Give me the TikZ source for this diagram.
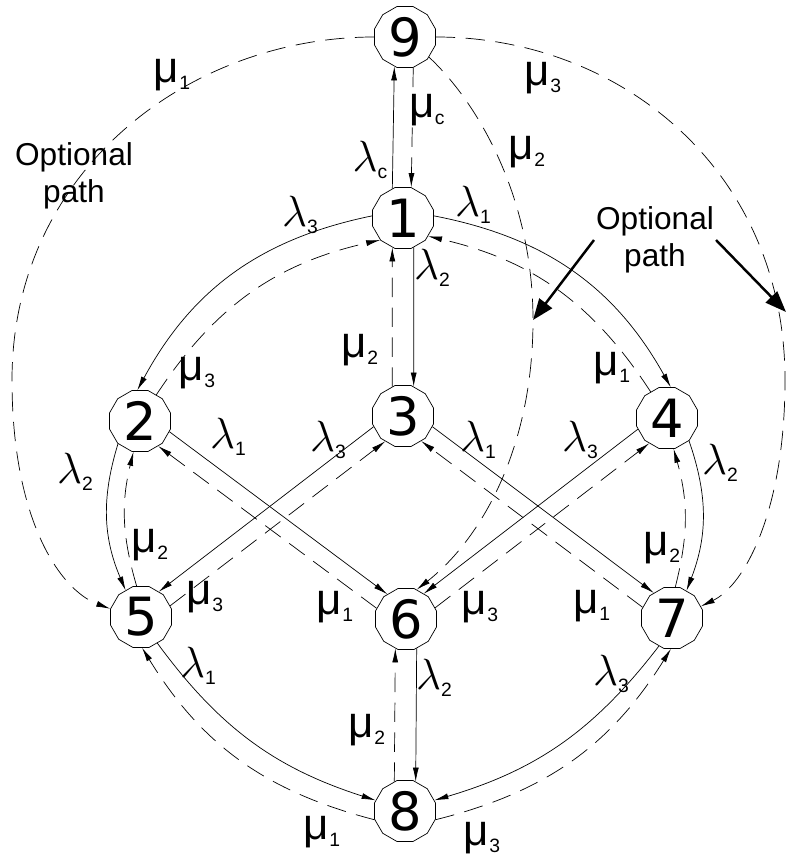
\documentclass[tikz,border=0pt]{standalone}
\usepackage{fontspec}
\setmainfont{Liberation Sans}
\newfontfamily\digitfont{DejaVu Sans}
\usetikzlibrary{arrows.meta,positioning,shapes.geometric}
\newcommand{\lam}[1]{$\lambda$\raisebox{-.3ex}{\fontsize{11}{11}\selectfont #1}}
\newcommand{\muu}[1]{μ\raisebox{-.3ex}{\fontsize{11}{11}\selectfont #1}}

\begin{document}
\begin{tikzpicture}[x=0.02cm,y=-0.02cm,
    state/.style={draw,thin,regular polygon,regular polygon sides=12,minimum size=1.26cm,inner sep=0pt,font=\digitfont\fontsize{30}{30}\selectfont},
    lbl/.style={font=\fontsize{25}{25}\selectfont,inner sep=0pt},
    lam/.style={-{Latex[length=8pt,width=3.4pt]},thin},
    mu/.style={lam,dash pattern=on 11pt off 6pt},
    optarr/.style={-{Triangle[length=12pt,width=9pt]},line width=1.4pt},
    opt/.style={font=\fontsize{18}{21}\selectfont,align=center,inner sep=1pt}
]
\useasboundingbox (0,0) rectangle (790,854);

\node[state] (n9) at (405,37) {9};
\node[state] (n1) at (403,218) {1};
\node[state] (n2) at (140,421) {2};
\node[state] (n3) at (403,416) {3};
\node[state] (n4) at (667,418) {4};
\node[state] (n5) at (141,617) {5};
\node[state] (n6) at (406,619) {6};
\node[state] (n7) at (672,618) {7};
\node[state] (n8) at (405,811) {8};

% middle column
\draw[lam] (n1.110) -- (n9.-110);
\draw[mu] (n9.-75) -- (n1.75);
\draw[lam] (n1.-70) -- (n3.70);
\draw[mu] (n3.110) -- (n1.-110);
\draw[lam] (n6.-70) -- (n8.70);
\draw[mu] (n8.110) -- (n6.-110);

% ring
\draw[lam] (n1.176) to[bend right=25] (n2.95);
\draw[mu] (n2.58) to[bend left=22] (n1.224);
\draw[lam] (n1.4) to[bend left=25] (n4.83);
\draw[mu] (n4.122) to[bend right=22] (n1.-36);
\draw[lam] (n2.226) to[bend right=20] (n5.120);
\draw[mu] (n5.98) to[bend left=15] (n2.258);
\draw[lam] (n4.-46) to[bend left=20] (n7.62);
\draw[mu] (n7.84) to[bend right=15] (n4.-78);
\draw[lam] (n5.-58) to[bend right=18] (n8.160);
\draw[mu] (n8.196) to[bend left=22] (n5.-88);
\draw[lam] (n7.-115) to[bend left=18] (n8.20);
\draw[mu] (n8.-16) to[bend right=22] (n7.-92);

% crossing
\draw[lam] (n2.-20) -- (n6.127);
\draw[mu] (n6.160) -- (n2.-54);
\draw[lam] (n3.200) -- (n5.55);
\draw[mu] (n5.21) -- (n3.235);
\draw[lam] (n3.-20) -- (n7.126);
\draw[mu] (n7.160) -- (n3.-54);
\draw[lam] (n4.201) -- (n6.55);
\draw[mu] (n6.21) -- (n4.235);

% optional paths
\draw[mu] (n9.180) .. controls (190,37) and (12,170) .. (12,380) .. controls (12,520) and (60,590) .. (n5.165);
\draw[mu] (n9.0) .. controls (620,37) and (785,170) .. (785,380) .. controls (785,510) and (745,585) .. (n7.22);
\draw[mu] (n9.-40) .. controls (480,105) and (533,200) .. (533,320) .. controls (533,450) and (480,540) .. (n6.70);

\node[opt] (opt1) at (74,176) {Optional\\path};
\node[opt] (opt2) at (655,240) {Optional\\path};
\coordinate (tip1) at (533,320);
\coordinate (tip2) at (786,312);
\draw[optarr] (opt2.west) -- (tip1);
\draw[optarr] (opt2.east) -- (tip2);

% labels
\node[lbl] (m1a) at (172,75) {\muu{1}};
\node[lbl] (m3a) at (543,78) {\muu{3}};
\node[lbl] (mca) at (427,110) {\muu{c}};
\node[lbl] (m2a) at (527,152) {\muu{2}};
\node[lbl] (lca) at (370,160) {\lam{c}};
\node[lbl] (l3a) at (300,215) {\lam{3}};
\node[lbl] (l1a) at (473,205) {\lam{1}};
\node[lbl] (l2a) at (432,268) {\lam{2}};
\node[lbl] (m2b) at (360,350) {\muu{2}};
\node[lbl] (m3b) at (197,373) {\muu{3}};
\node[lbl] (m1b) at (612,368) {\muu{1}};
\node[lbl] (l1b) at (228,437) {\lam{1}};
\node[lbl] (l3b) at (328,440) {\lam{3}};
\node[lbl] (l1c) at (478,440) {\lam{1}};
\node[lbl] (l3c) at (580,440) {\lam{3}};
\node[lbl] (l2b) at (75,472) {\lam{2}};
\node[lbl] (l2c) at (720,463) {\lam{2}};
\node[lbl] (m2c) at (150,545) {\muu{2}};
\node[lbl] (m2d) at (662,548) {\muu{2}};
\node[lbl] (m3c) at (205,597) {\muu{3}};
\node[lbl] (m1c) at (335,607) {\muu{1}};
\node[lbl] (m3d) at (480,607) {\muu{3}};
\node[lbl] (m1d) at (592,606) {\muu{1}};
\node[lbl] (l1d) at (198,666) {\lam{1}};
\node[lbl] (l2d) at (434,678) {\lam{2}};
\node[lbl] (l3d) at (611,674) {\lam{3}};
\node[lbl] (m2e) at (367,730) {\muu{2}};
\node[lbl] (m1e) at (322,832) {\muu{1}};
\node[lbl] (m3e) at (482,838) {\muu{3}};
\end{tikzpicture}
\end{document}
